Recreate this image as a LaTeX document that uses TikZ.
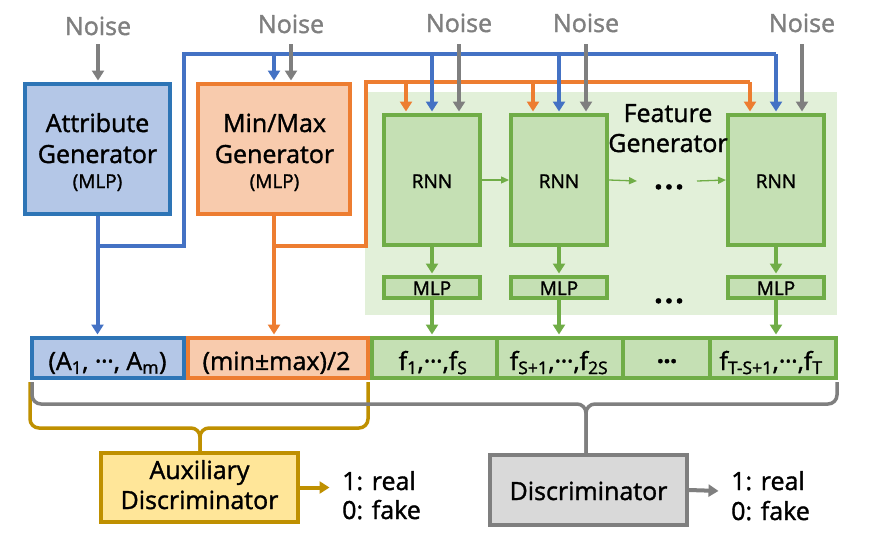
\documentclass[tikz,border=0pt]{standalone}
\usepackage{fontspec}
\setmainfont{Open Sans}[FakeBold=1.4]
\usetikzlibrary{arrows.meta}
\definecolor{cblue}{HTML}{4472C4}
\definecolor{cblueB}{HTML}{2E75B6}
\definecolor{cblueF}{HTML}{B4C7E7}
\definecolor{corange}{HTML}{ED7D31}
\definecolor{corangeF}{HTML}{F8CBAD}
\definecolor{cgreen}{HTML}{70AD47}
\definecolor{cgreenF}{HTML}{C5E0B4}
\definecolor{cgreenBG}{HTML}{E2F0D9}
\definecolor{cgray}{HTML}{7F7F7F}
\definecolor{cgrayF}{HTML}{D9D9D9}
\definecolor{cgold}{HTML}{BF9000}
\definecolor{cgoldF}{HTML}{FFE699}
\newcommand\mydots{\textperiodcentered\kern-0.5pt\textperiodcentered\kern-0.5pt\textperiodcentered}
\begin{document}
\begin{tikzpicture}[x=1pt,y=-1pt,
  blk/.style={draw, line width=4pt, inner sep=0pt},
  txt/.style={inner sep=0pt, anchor=base, font=\fontsize{25}{30}\selectfont},
  stxt/.style={inner sep=0pt, anchor=base, font=\fontsize{19}{22}\selectfont},
  ntxt/.style={inner sep=0pt, anchor=base, text=cgray, font=\fontsize{25}{30}\selectfont},
  wire/.style={line width=4pt, line join=miter},
  tipb/.style={-{Triangle[width=12pt,length=10pt]}, shorten >=1.5pt},
  thin/.style={cgreen, line width=1.3pt, -{Triangle[width=7pt,length=8pt]}},
  brace/.style={line width=3.5pt, rounded corners=9pt},
]
\fill[white] (0,0) rectangle (892,547);
\useasboundingbox (0,0) rectangle (892,547);

% feature generator background
\fill[cgreenBG] (365,92) rectangle (837,315);

% generator boxes
\node[blk, draw=cblueB, fill=cblueF, minimum width=145pt, minimum height=130pt] (attr) at (97.5,149) {};
\node[blk, draw=corange, fill=corangeF, minimum width=152pt, minimum height=130pt] (mm) at (274,149) {};
\node[txt] (attrA) at (97.5,132) {Attribute};
\node[txt] (attrB) at (97.5,163) {Generator};
\node[stxt] (attrC) at (97.5,188) {(MLP)};
\node[txt] (mmA) at (274.5,132) {Min/Max};
\node[txt] (mmB) at (274.5,163) {Generator};
\node[stxt] (mmC) at (274.5,188) {(MLP)};

% RNN and MLP boxes
\foreach \n/\x in {1/432,2/559,3/776}{
  \node[blk, draw=cgreen, fill=cgreenF, minimum width=96pt, minimum height=130pt] (r\n) at (\x,180) {};
  \node[stxt] (rt\n) at (\x,188) {RNN};
  \node[blk, draw=cgreen, fill=cgreenF, minimum width=96pt, minimum height=21pt] (m\n) at (\x,287.5) {};
  \node[stxt] (mt\n) at (\x,295) {MLP};
}
\node[txt] (fgA) at (668,122) {Feature};
\node[txt] (fgB) at (668,152) {Generator};
\node[inner sep=0pt, anchor=base, font=\fontsize{30}{30}\selectfont\bfseries] (dots1) at (669,189) {.\kern2pt.\kern2pt.};
\node[inner sep=0pt, anchor=base, font=\fontsize{30}{30}\selectfont\bfseries] (dots2) at (669,303) {.\kern2pt.\kern2pt.};

% output row
\node[blk, draw=cblueB, fill=cblueF, minimum width=152pt, minimum height=40pt] (aa) at (108,358) {};
\node[blk, draw=corange, fill=corangeF, minimum width=180pt, minimum height=40pt] (mx) at (278,358) {};
\node[blk, draw=cgreen, fill=cgreenF, minimum width=125pt, minimum height=40pt] (f1) at (434.5,358) {};
\node[blk, draw=cgreen, fill=cgreenF, minimum width=126pt, minimum height=40pt] (f2) at (560,358) {};
\node[blk, draw=cgreen, fill=cgreenF, minimum width=87pt, minimum height=40pt] (fd) at (666.5,358) {};
\node[blk, draw=cgreen, fill=cgreenF, minimum width=126pt, minimum height=40pt] (f3) at (773,358) {};
\node[txt] (aaT) at (107.5,370) {(A\textsubscript{1}, \mydots, A\textsubscript{m})};
\node[txt] (mxT) at (276.5,370) {(min±max)/2};
\node[txt] (f1T) at (433,370) {f\textsubscript{1},\mydots,f\textsubscript{S}};
\node[txt] (f2T) at (559,370) {f\textsubscript{S+1},\mydots,f\textsubscript{2S}};
\node[txt, font=\fontsize{25}{30}\selectfont\bfseries] (fdT) at (667,370) {\mydots};
\node[txt] (f3T) at (771,370) {f\textsubscript{T-S+1},\mydots,f\textsubscript{T}};

% discriminators
\node[blk, draw=cgold, fill=cgoldF, minimum width=197pt, minimum height=69pt] (aux) at (199.5,487.5) {};
\node[txt] (auxA) at (199.5,479) {Auxiliary};
\node[txt] (auxB) at (199.5,509) {Discriminator};
\node[blk, draw=cgray, fill=cgrayF, minimum width=197pt, minimum height=70pt] (disc) at (588.5,490) {};
\node[txt] (discT) at (588.5,500) {Discriminator};
\node[txt, anchor=base west] (o1a) at (342,490) {1: real};
\node[txt, anchor=base west] (o1b) at (342,519) {0: fake};
\node[txt, anchor=base west] (o2a) at (731,490) {1: real};
\node[txt, anchor=base west] (o2b) at (731,520) {0: fake};
\coordinate (e1) at (331,487.5);
\coordinate (e2) at (720,491);

% noise labels
\node[ntxt] (n1) at (98,35) {Noise};
\node[ntxt] (n2) at (291,33) {Noise};
\node[ntxt] (n3) at (459,32) {Noise};
\node[ntxt] (n4) at (586,32) {Noise};
\node[ntxt] (n5) at (802,32) {Noise};

% corner coordinates
\coordinate (bj) at (97.5,246);
\coordinate (b1) at (184,246);
\coordinate (b2) at (184,54);
\coordinate (b3) at (776,54);
\coordinate (oj) at (274,246);
\coordinate (o1) at (366,246);
\coordinate (o2) at (366,82);
\coordinate (o3) at (750,82);
\coordinate (ob1) at (406,82);
\coordinate (ob2) at (533,82);
\coordinate (bb0) at (274,54);
\coordinate (bb1) at (432,54);
\coordinate (bb2) at (559,54);
\coordinate (gj) at (200,428);
\coordinate (gl) at (30,382);
\coordinate (gr) at (368,382);
\coordinate (dj) at (586,404);
\coordinate (dl) at (32,382);
\coordinate (dr) at (837,382);

% orange wires
\draw[wire, corange] (oj) -- (o1) -- (o2) -- (o3);
\draw[wire, corange, tipb] (o3) -- (o3 |- r3.north);
\draw[wire, corange, tipb] (ob1) -- (ob1 |- r1.north);
\draw[wire, corange, tipb] (ob2) -- (ob2 |- r2.north);
\draw[wire, corange, tipb] (mm.south) -- (mm.south |- mx.north);

% blue wires
\draw[wire, cblue] (bj) -- (b1) -- (b2) -- (b3);
\draw[wire, cblue, tipb] (b3) -- (r3.north);
\draw[wire, cblue, tipb] (bb0) -- (mm.north);
\draw[wire, cblue, tipb] (bb1) -- (r1.north);
\draw[wire, cblue, tipb] (bb2) -- (bb2 |- r2.north);
\draw[wire, cblue, tipb] (attr.south) -- (attr.south |- aa.north);

% gray noise arrows
\draw[wire, cgray, tipb, shorten <=9pt] (n1.south) -- (n1.south |- attr.north);
\draw[wire, cgray, tipb, shorten <=11pt] (n2.south) -- (n2.south |- mm.north);
\draw[wire, cgray, tipb, shorten <=12pt] (n3.south) -- (n3.south |- r1.north);
\draw[wire, cgray, tipb, shorten <=12pt] (n4.south) -- (n4.south |- r2.north);
\draw[wire, cgray, tipb, shorten <=12pt] (n5.south) -- (n5.south |- r3.north);

% green arrows
\foreach \n in {1,2,3}{
  \draw[wire, cgreen, tipb] (r\n.south) -- (m\n.north);
  \draw[wire, cgreen, tipb] (m\n.south) -- (m\n.south |- f1.north);
}
\draw[thin] (r1.east) -- (r2.west);
\draw[thin] (r2.east) -- (637,181);
\draw[thin] (697,181) -- (r3.west);

% braces
\draw[brace, cgold] (gl) |- (gj) -- (gj |- aux.north);
\draw[brace, cgold] (gr) |- (gj) -- (gj |- aux.north);
\draw[brace, cgray] (dl) |- (dj) -- (dj |- disc.north);
\draw[brace, cgray] (dr) |- (dj) -- (dj |- disc.north);

% outputs
\draw[wire, cgold, tipb] (aux.east) -- (e1);
\draw[wire, cgray, tipb] (disc.east) -- (e2);
\end{tikzpicture}
\end{document}
